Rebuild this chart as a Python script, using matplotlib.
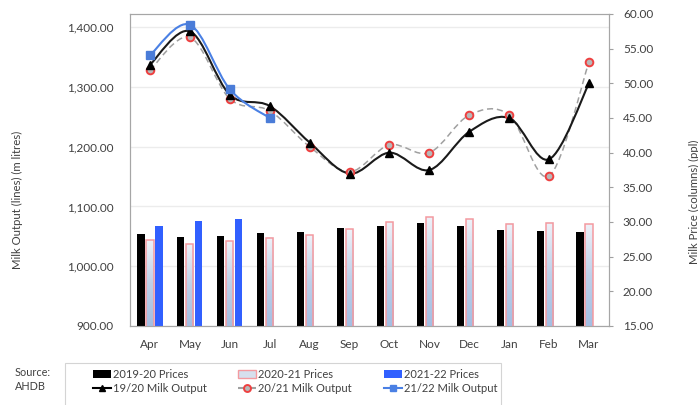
import numpy as np
import matplotlib
matplotlib.use("Agg")
import matplotlib.pyplot as plt
from matplotlib.path import Path
from matplotlib.patches import PathPatch, Patch, Rectangle
from matplotlib.lines import Line2D
from matplotlib.ticker import FuncFormatter
from matplotlib.colors import LinearSegmentedColormap

plt.rcParams['font.family'] = ['Lato', 'DejaVu Sans']

months = ['Apr', 'May', 'Jun', 'Jul', 'Aug', 'Sep', 'Oct', 'Nov', 'Dec', 'Jan', 'Feb', 'Mar']

# milk prices (ppl), right axis, columns
price_1920 = [28.26, 27.83, 27.92, 28.40, 28.60, 29.18, 29.42, 29.86, 29.42, 28.84, 28.70, 28.55]
price_2021 = [27.35, 26.76, 27.20, 27.73, 28.12, 28.99, 29.95, 30.68, 30.39, 29.76, 29.90, 29.71]
price_2122 = [29.42, 30.10, 30.39]

# milk output (m litres), left axis, lines
output_1920 = [1337, 1393, 1287, 1268, 1207, 1155, 1190, 1161, 1225, 1248, 1179, 1306]
output_2021 = [1328, 1383, 1280, 1260, 1200, 1158, 1203, 1190, 1253, 1253, 1151, 1342]
output_2122 = [1353, 1404, 1296, 1248]

left_ticks = [900, 1000, 1100, 1200, 1300, 1400]
right_ticks = [15, 20, 25, 30, 35, 40, 45, 50, 55, 60]

txt = '#404040'
pink = '#f49aa0'
blue_bar = '#3160ff'
blue_line = '#4a80e4'


def smooth_path(x, y):
    # excel-style smoothed line: bezier segments through the points
    p = np.column_stack([x, y]).astype(float)
    n = len(p)
    verts = [p[0]]
    codes = [Path.MOVETO]
    for i in range(n - 1):
        p0 = p[i - 1] if i > 0 else p[i]
        p1, p2 = p[i], p[i + 1]
        p3 = p[i + 2] if i + 2 < n else p[i + 1]
        c1 = p1 + (p2 - p0) / 6
        c2 = p2 - (p3 - p1) / 6
        verts += [c1, c2, p2]
        codes += [Path.CURVE4] * 3
    return Path(verts, codes)


fig = plt.figure(figsize=(6.98, 4.05), dpi=100)
ax = fig.add_axes([130 / 698, 1 - 326 / 405, 479 / 698, 312 / 405])
ax2 = ax.twinx()

x = np.arange(len(months))

# lines on the output axis
ax.add_patch(PathPatch(smooth_path(x, output_2021), fill=False, edgecolor='#a0a0a0',
                       lw=1.1, linestyle=(0, (4, 2.5))))
ax.plot(x, output_2021, linestyle='none', marker='o', ms=5.5, mfc='#b8b8b8',
        mec='#ee4040', mew=1.4)
ax.add_patch(PathPatch(smooth_path(x, output_1920), fill=False, edgecolor='#1a1a1a', lw=1.5))
ax.plot(x, output_1920, linestyle='none', marker='^', ms=5.5, color='black')
x3 = np.arange(len(output_2122))
ax.add_patch(PathPatch(smooth_path(x3, output_2122), fill=False, edgecolor=blue_line, lw=1.5))
ax.plot(x3, output_2122, linestyle='none', marker='s', ms=6, color='#4a7cd8')

ax.set_ylim(900, 1422)
ax.set_xlim(-0.5, 11.5)
ax.set_yticks(left_ticks)
ax.yaxis.set_major_formatter(FuncFormatter(lambda v, p: f'{v:,.2f}'))
ax.grid(axis='y', color='#ececec', lw=1)
ax.set_axisbelow(True)
ax.set_xticks(x)
ax.set_xticklabels(months)
ax.tick_params(axis='y', length=0, pad=12, labelsize=8.5, labelcolor=txt)
ax.tick_params(axis='x', length=0, pad=9, labelsize=8.5, labelcolor=txt)

# columns on the price axis
w = 0.18
off = 0.225
xb = np.arange(len(price_2122))
ax2.bar(x - off, price_1920, width=w, bottom=0, color='black', zorder=2)
grad = np.linspace(0, 1, 100).reshape(-1, 1)
cmap = LinearSegmentedColormap.from_list('g', ['#eef1f8', '#bfd0e9', '#a4bee2'])
for xi, h in zip(x, price_2021):
    ax2.imshow(grad, extent=[xi - w / 2, xi + w / 2, 15, h], aspect='auto',
               cmap=cmap, origin='upper', zorder=2)
ax2.bar(x, price_2021, width=w, facecolor='none', edgecolor=pink, lw=1.1, zorder=3)
ax2.bar(xb + off, price_2122, width=w, color=blue_bar, zorder=2)
ax2.set_ylim(15, 60)
ax2.set_xlim(-0.5, 11.5)
ax2.set_yticks(right_ticks)
ax2.yaxis.set_major_formatter(FuncFormatter(lambda v, p: f'{v:.2f}'))
ax2.tick_params(axis='y', length=3, pad=7, color='#a0a0a0', labelsize=8.5, labelcolor=txt)

for a in (ax, ax2):
    for s in a.spines.values():
        s.set_color('#a6a6a6')

fig.text(17 / 698, 1 - 200 / 405, 'Milk Output (lines) (m litres)', rotation=90,
         ha='center', va='center', fontsize=8.2, color=txt)
fig.text(694 / 698, 1 - 202 / 405, 'Milk Price (columns) (ppl)', rotation=90,
         ha='center', va='center', fontsize=8.2, color=txt)
fig.text(15 / 698, 1 - 367 / 405, 'Source:\nAHDB', ha='left', va='top',
         fontsize=7.8, color=txt, linespacing=1.35)

# legend box, runs off the bottom edge like the original
fig.patches.append(Rectangle((65 / 698, -0.05), 436 / 698, 0.05 + 1 - 363 / 405,
                             transform=fig.transFigure, facecolor='white',
                             edgecolor='#d4d4d4', lw=0.8))

leg_cols = [
    (93, [Patch(facecolor='black'),
          Line2D([], [], color='black', marker='^', ms=5, lw=1.5)],
     ['2019-20 Prices', '19/20 Milk Output']),
    (238, [Patch(facecolor='#d6e0ee', edgecolor=pink),
           Line2D([], [], color='#a0a0a0', ls='--', marker='o', ms=5, mfc='#b8b8b8',
                  mec='#ee4040', mew=1.4)],
     ['2020-21 Prices', '20/21 Milk Output']),
    (384, [Patch(facecolor=blue_bar),
           Line2D([], [], color=blue_line, marker='s', ms=5, lw=1.5)],
     ['2021-22 Prices', '21/22 Milk Output']),
]
for xpos, hs, ls in leg_cols:
    leg = fig.legend(hs, ls, loc='upper left', bbox_to_anchor=(xpos / 698, 1 - 369 / 405),
                     fontsize=8, frameon=False, handlelength=1.6, handletextpad=0.2,
                     labelspacing=0.3, borderpad=0, borderaxespad=0)
    for t in leg.get_texts():
        t.set_color(txt)

fig.savefig('out.png', dpi=100)
